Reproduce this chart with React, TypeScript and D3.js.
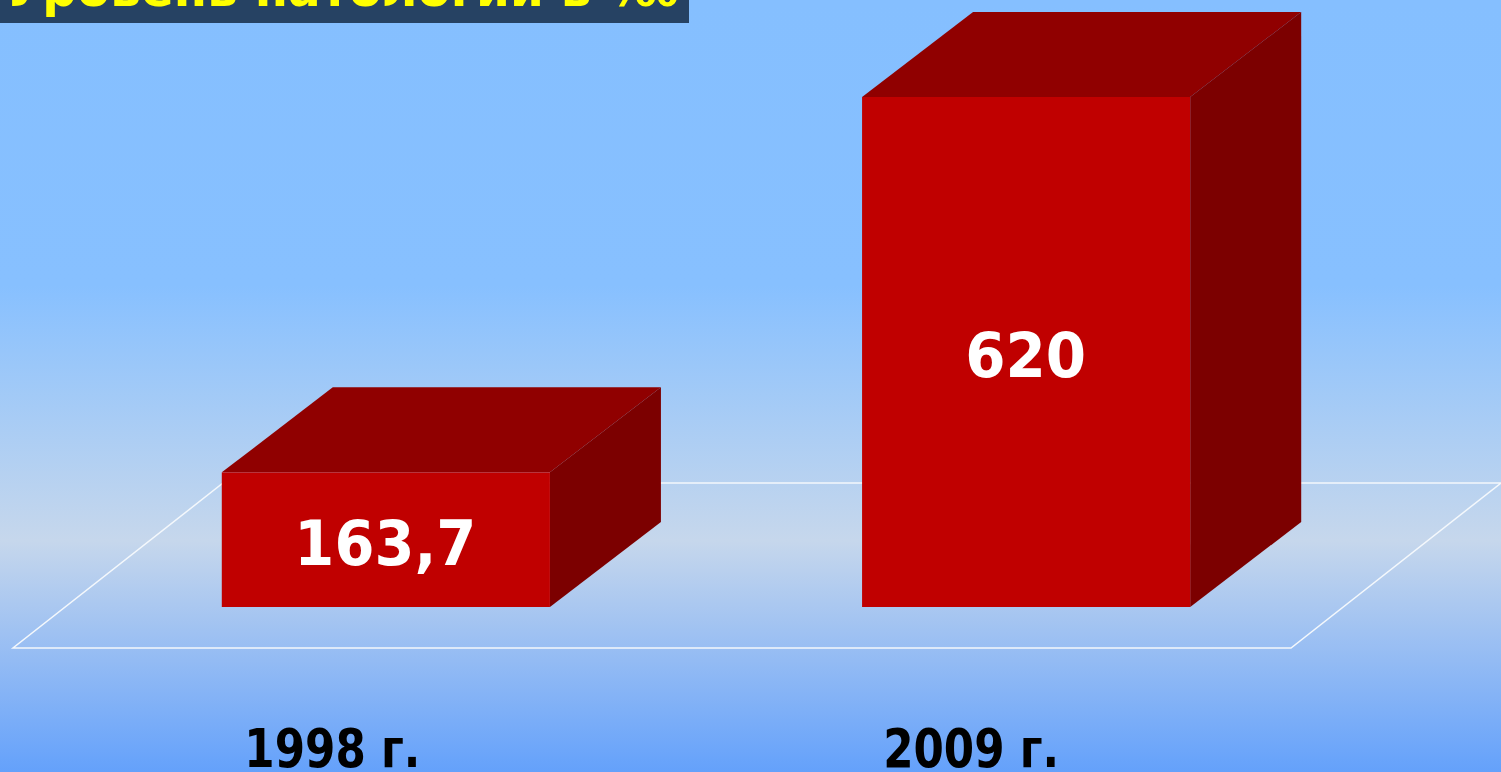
import React from "react";
import * as d3 from "d3";

const categories = ["1998 г.", "2009 г."];
const values = [163.7, 620];
const valueLabels = ["163,7", "620"];
const titleText = "Уровень патологии в ‰";

const W = 1501, H = 772;
const y = d3.scaleLinear().domain([0, 620]).range([607, 97]);
const x = d3.scaleBand<string>().domain(categories).range([71, 1341]).paddingInner(0.4875).paddingOuter(0.2355);
const dx = 111, dy = 85;
const line = d3.line();
const valueWidths = [182, 121];
const labelWidths = [176, 176];
const labelOffsets = [-53.5, -55];
const font = "'DejaVu Sans', sans-serif";

export default function App() {
  const bw = x.bandwidth();
  return (
    <svg width={W} height={H} viewBox={`0 0 ${W} ${H}`} style={{ position: "fixed", left: 0, top: 0, display: "block" }}>
      <defs>
        <linearGradient id="bg" x1="0" y1="0" x2="0" y2="1">
          <stop offset="0" stopColor="#85bfff" />
          <stop offset="0.37" stopColor="#87c0ff" />
          <stop offset="0.7" stopColor="#c6d7ec" />
          <stop offset="1" stopColor="#64a1fb" />
        </linearGradient>
      </defs>
      <rect width={W} height={H} fill="url(#bg)" />
      <path
        d={line([[13, 648], [1291, 648], [1501, 483], [223, 483]]) + "Z"}
        fill="none"
        stroke="#f4f8fc"
        strokeWidth={1.5}
      />
      {categories.map((c, i) => {
        const x0 = x(c)!;
        const x1 = x0 + bw;
        const yt = y(values[i]);
        const yb = y(0);
        return (
          <g key={c}>
            <path d={line([[x0, yt], [x0 + dx, yt - dy], [x1 + dx, yt - dy], [x1, yt]]) + "Z"} fill="#900000" />
            <path d={line([[x1, yt], [x1 + dx, yt - dy], [x1 + dx, yb - dy], [x1, yb]]) + "Z"} fill="#7c0000" />
            <rect x={x0} y={yt} width={bw} height={yb - yt} fill="#c00000" />
            <text
              x={(x0 + x1) / 2 - 0.5}
              y={(yt + yb) / 2 + 25}
              textAnchor="middle"
              fontFamily={font}
              fontWeight="bold"
              fontSize={63}
              textLength={valueWidths[i]}
              lengthAdjust="spacingAndGlyphs"
              fill="#ffffff"
            >
              {valueLabels[i]}
            </text>
            <text
              x={(x0 + x1) / 2 + labelOffsets[i]}
              y={767}
              textAnchor="middle"
              fontFamily={font}
              fontWeight="bold"
              fontSize={53}
              textLength={labelWidths[i]}
              lengthAdjust="spacingAndGlyphs"
              fill="#000000"
            >
              {c}
            </text>
          </g>
        );
      })}
      <rect x={0} y={0} width={689} height={23} fill="#264263" />
      <text x={5} y={6} fontFamily={font} fontWeight="bold" fontSize={51} textLength={673} lengthAdjust="spacingAndGlyphs" fill="#ffff00">
        {titleText}
      </text>
    </svg>
  );
}
